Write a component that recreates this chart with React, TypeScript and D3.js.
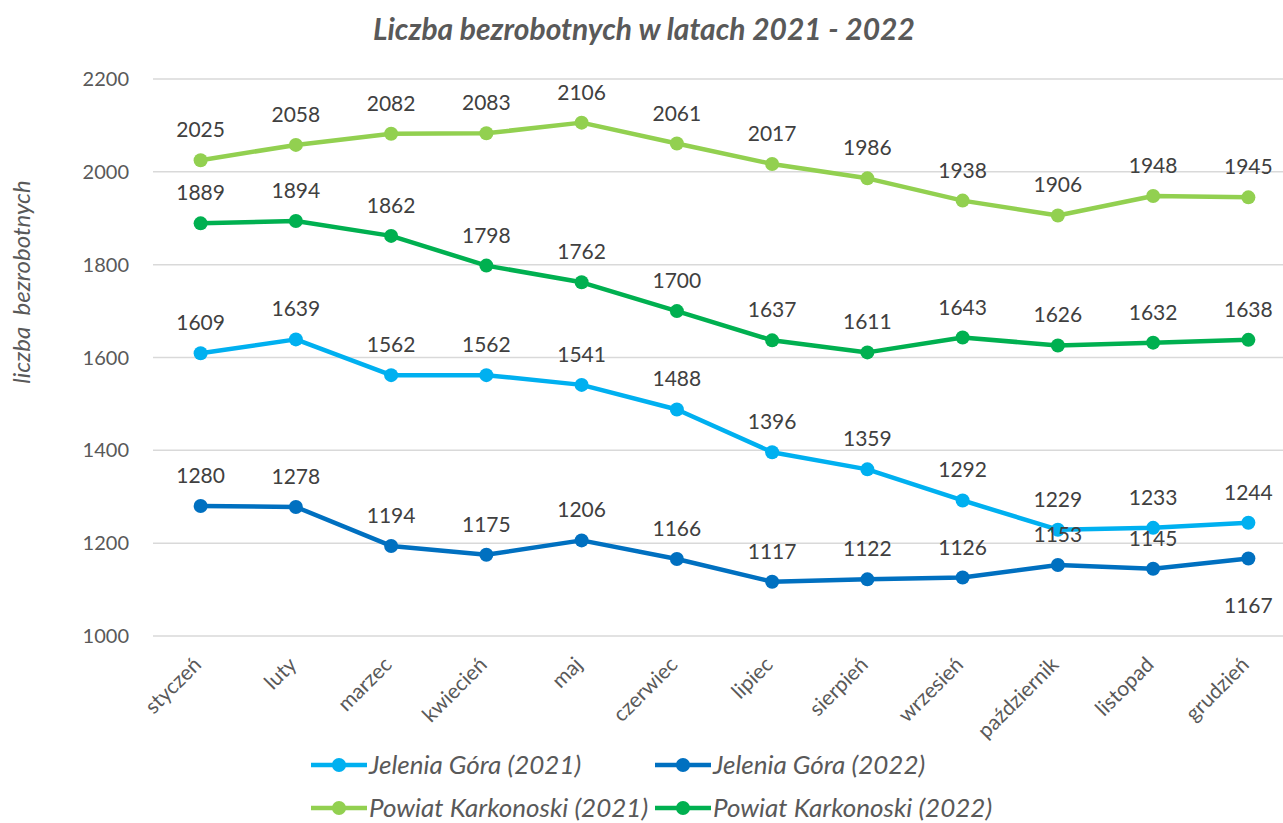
import { useEffect, useRef } from "react";
import * as d3 from "d3";

const months = [
    "styczeń", "luty", "marzec", "kwiecień", "maj", "czerwiec",
    "lipiec", "sierpień", "wrzesień", "październik", "listopad", "grudzień",
];

const jg2021 = [1609, 1639, 1562, 1562, 1541, 1488, 1396, 1359, 1292, 1229, 1233, 1244];
const jg2022 = [1280, 1278, 1194, 1175, 1206, 1166, 1117, 1122, 1126, 1153, 1145, 1167];
const pk2021 = [2025, 2058, 2082, 2083, 2106, 2061, 2017, 1986, 1938, 1906, 1948, 1945];
const pk2022 = [1889, 1894, 1862, 1798, 1762, 1700, 1637, 1611, 1643, 1626, 1632, 1638];

const yTicks = [1000, 1200, 1400, 1600, 1800, 2000, 2200];

const seriesNames = [
    "Jelenia Góra (2021)",
    "Jelenia Góra (2022)",
    "Powiat Karkonoski (2021)",
    "Powiat Karkonoski (2022)",
];
const seriesColors = ["#00B0F0", "#0070C0", "#92D050", "#00B050"];

const FONT = "Lato, 'Open Sans', sans-serif";

export default function App() {
    const ref = useRef<SVGSVGElement>(null);

    useEffect(() => {
        const width = 1283;
        const height = 823;
        const svg = d3.select(ref.current);
        svg.selectAll("*").remove();

        const left = 153;
        const right = 1296;
        const top = 79;
        const bottom = 636;

        const x = d3.scaleBand().domain(months).range([left, right]);
        const y = d3.scaleLinear().domain([1000, 2200]).range([bottom, top]);
        const cx = (m: string) => (x(m) || 0) + x.bandwidth() / 2;

        // title
        svg.append("text")
            .attr("x", 644)
            .attr("y", 40)
            .attr("text-anchor", "middle")
            .attr("font-family", FONT)
            .attr("font-size", 30)
            .attr("font-weight", "bold")
            .attr("font-style", "italic")
            .attr("fill", "#595959")
            .text("Liczba bezrobotnych w latach 2021 - 2022");

        // gridlines
        svg.append("g")
            .selectAll("line")
            .data(yTicks)
            .enter()
            .append("line")
            .attr("x1", left)
            .attr("x2", width)
            .attr("y1", (d) => y(d))
            .attr("y2", (d) => y(d))
            .attr("stroke", "#d9d9d9")
            .attr("stroke-width", 1.5);

        // y tick labels
        svg.append("g")
            .selectAll("text")
            .data(yTicks)
            .enter()
            .append("text")
            .attr("x", 129)
            .attr("y", (d) => y(d) + 7)
            .attr("text-anchor", "end")
            .attr("font-family", FONT)
            .attr("font-size", 20)
            .attr("fill", "#595959")
            .text((d) => d);

        // y axis title
        svg.append("text")
            .attr("transform", "translate(30,282) rotate(-90)")
            .attr("text-anchor", "middle")
            .attr("font-family", FONT)
            .attr("font-size", 24)
            .attr("font-style", "italic")
            .attr("fill", "#595959")
            .style("white-space", "pre")
            .text("liczba  bezrobotnych");

        // x labels
        svg.append("g")
            .selectAll("text")
            .data(months)
            .enter()
            .append("text")
            .attr("transform", (d) => `translate(${cx(d) + 2},${666}) rotate(-45)`)
            .attr("text-anchor", "end")
            .attr("font-family", FONT)
            .attr("font-size", 21)
            .attr("fill", "#595959")
            .text((d) => d);

        const allSeries = [jg2021, jg2022, pk2021, pk2022];
        const line = d3
            .line<number>()
            .x((_, i) => cx(months[i]))
            .y((d) => y(d));

        allSeries.forEach((values, si) => {
            const g = svg.append("g");
            g.append("path")
                .datum(values)
                .attr("d", line)
                .attr("fill", "none")
                .attr("stroke", seriesColors[si])
                .attr("stroke-width", 4.5)
                .attr("stroke-linejoin", "round");
            g.selectAll("circle")
                .data(values)
                .enter()
                .append("circle")
                .attr("cx", (_, i) => cx(months[i]))
                .attr("cy", (d) => y(d))
                .attr("r", 7)
                .attr("fill", seriesColors[si]);
        });

        // data labels
        allSeries.forEach((values, si) => {
            svg.append("g")
                .selectAll("text")
                .data(values)
                .enter()
                .append("text")
                .attr("x", (_, i) => cx(months[i]))
                .attr("y", (d, i) => {
                    // only the last dark-blue label sits below its point
                    if (si === 1 && i === 11) return y(d) + 55;
                    return y(d) - 23;
                })
                .attr("text-anchor", "middle")
                .attr("font-family", FONT)
                .attr("font-size", 21)
                .attr("fill", "#404040")
                .text((d) => d);
        });

        // legend
        const legendPos = [
            [311, 765],
            [655, 765],
            [311, 808],
            [655, 808],
        ];
        seriesNames.forEach((name, i) => {
            const [lx, ly] = legendPos[i];
            const g = svg.append("g");
            g.append("line")
                .attr("x1", lx)
                .attr("x2", lx + 56)
                .attr("y1", ly)
                .attr("y2", ly)
                .attr("stroke", seriesColors[i])
                .attr("stroke-width", 4.5);
            g.append("circle")
                .attr("cx", lx + 28)
                .attr("cy", ly)
                .attr("r", 7)
                .attr("fill", seriesColors[i]);
            g.append("text")
                .attr("x", lx + 58)
                .attr("y", ly + 9)
                .attr("font-family", FONT)
                .attr("font-size", 26)
                .attr("font-style", "italic")
                .attr("fill", "#595959")
                .text(name);
        });

        svg.attr("width", width).attr("height", height);
    }, []);

    return (
        <svg
            ref={ref}
            width={1283}
            height={823}
            style={{ position: "absolute", left: 0, top: 0, background: "#fff" }}
        />
    );
}
